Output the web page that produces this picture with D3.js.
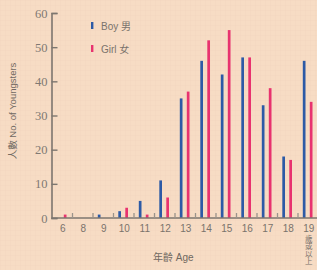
<!DOCTYPE html>
<html lang="en">
  <head>
    <meta charset="utf-8">
    <title>Youngsters by Age</title>
    <script src="https://cdnjs.cloudflare.com/ajax/libs/d3/7.8.5/d3.min.js"></script>
  </head>

  <style media="screen">
    body {
      margin: 0;
      background: #f7dcc4;
    }
  </style>

  <body>
    <script type="text/javascript">
      // Chart data.
      const ages = ["6", "8", "9", "10", "11", "12", "13", "14", "15", "16", "17", "18", "19"];
      const boys = [0, 0, 1, 2, 5, 11, 35, 46, 42, 47, 33, 18, 46];
      const girls = [1, 0, 0, 3, 1, 6, 37, 52, 55, 47, 38, 17, 34];
      const yTicks = [0, 10, 20, 30, 40, 50, 60];

      const w = 317;
      const h = 270;
      const left = 51.5;
      const bottom = 218;

      const svg = d3.select("body")
                    .append("svg")
                    .attr("width", w)
                    .attr("height", h);

      // Faint graph-paper background.
      const pattern = svg.append("defs")
                         .append("pattern")
                         .attr("id", "grid")
                         .attr("width", 5)
                         .attr("height", 5)
                         .attr("patternUnits", "userSpaceOnUse");
      pattern.append("rect")
             .attr("width", 5)
             .attr("height", 5)
             .attr("fill", "#f7dcc4");
      pattern.append("path")
             .attr("d", "M5 0 L0 0 L0 5")
             .attr("fill", "none")
             .attr("stroke", "#f2d3ba")
             .attr("stroke-width", 0.6);
      svg.append("rect")
         .attr("width", w)
         .attr("height", h)
         .attr("fill", "url(#grid)");

      const xScale = d3.scaleBand()
                       .domain(ages)
                       .range([left, 318]);

      const yScale = d3.scaleLinear()
                       .domain([0, 60])
                       .range([bottom, 13]);

      const bw = xScale.bandwidth();

      // Bars.
      svg.selectAll(".boy")
         .data(ages)
         .enter()
         .append("rect")
         .attr("class", "boy")
         .attr("x", d => xScale(d) + 5.3)
         .attr("y", (d, i) => yScale(boys[i]))
         .attr("width", 2.7)
         .attr("height", (d, i) => bottom - yScale(boys[i]))
         .attr("fill", "#2d5aa6");

      svg.selectAll(".girl")
         .data(ages)
         .enter()
         .append("rect")
         .attr("class", "girl")
         .attr("x", d => xScale(d) + 12.3)
         .attr("y", (d, i) => yScale(girls[i]))
         .attr("width", 2.7)
         .attr("height", (d, i) => bottom - yScale(girls[i]))
         .attr("fill", "#e8336f");

      // Axes.
      const yAxis = d3.axisRight(yScale)
                      .tickValues(yTicks)
                      .tickSize(6)
                      .tickFormat(d => d);
      const yg = svg.append("g")
                    .attr("transform", "translate(" + left + ",0)")
                    .call(yAxis);
      yg.select(".domain").attr("stroke", "#7d766f").attr("stroke-width", 1.6);
      yg.selectAll(".tick line").attr("stroke", "#7d766f").attr("stroke-width", 1.4);
      yg.selectAll(".tick text")
        .attr("x", -4)
        .attr("text-anchor", "end")
        .style("font-family", "'Liberation Serif', serif")
        .style("font-size", "12.5px")
        .attr("fill", "#807973");

      const xAxis = d3.axisBottom(xScale).tickSize(0).tickPadding(7);
      const xg = svg.append("g")
                    .attr("transform", "translate(0," + bottom + ")")
                    .call(xAxis);
      xg.select(".domain")
        .attr("d", "M" + left + ",0H" + w)
        .attr("stroke", "#7d766f")
        .attr("stroke-width", 1.6);
      xg.selectAll(".tick text")
        .attr("dx", 1)
        .style("font-family", "'Liberation Sans', sans-serif")
        .style("font-size", "10px")
        .attr("fill", "#7a736c");

      // Small grey marks between the age groups.
      svg.selectAll(".sep")
         .data(ages.slice(1))
         .enter()
         .append("line")
         .attr("class", "sep")
         .attr("x1", d => xScale(d) + 0.5)
         .attr("x2", d => xScale(d) + 0.5)
         .attr("y1", bottom - 5)
         .attr("y2", bottom)
         .attr("stroke", "#9a938b")
         .attr("stroke-width", 1.3);

      // "19 歲或以上": the extra words run downwards under the last label.
      svg.append("text")
         .attr("x", xScale("19") + bw / 2 + 1)
         .attr("y", 235)
         .style("writing-mode", "vertical-rl")
         .style("font-family", "'Noto Sans CJK TC', sans-serif")
         .style("font-size", "7.5px")
         .attr("fill", "#7a736c")
         .text("歲或以上");

      // Axis titles.
      svg.append("text")
         .attr("x", 153)
         .attr("y", 261)
         .style("font-family", "'Liberation Sans', 'Noto Sans CJK TC', sans-serif")
         .style("font-size", "10px")
         .attr("fill", "#6f6861")
         .text("年齡 Age");

      svg.append("text")
         .attr("transform", "translate(16,111) rotate(-90)")
         .attr("text-anchor", "middle")
         .style("font-family", "'Liberation Sans', 'Noto Sans CJK TC', sans-serif")
         .style("font-size", "9.5px")
         .attr("fill", "#6f6861")
         .text("人數 No. of Youngsters");

      // Legend.
      const legendItems = [["Boy 男", "#2d5aa6"], ["Girl 女", "#e8336f"]];
      const legend = svg.append("g");
      legend.selectAll("rect")
            .data(legendItems)
            .enter()
            .append("rect")
            .attr("x", 91)
            .attr("y", (d, i) => 22 + i * 23)
            .attr("width", 2.4)
            .attr("height", 7)
            .attr("fill", d => d[1]);
      legend.selectAll("text")
            .data(legendItems)
            .enter()
            .append("text")
            .attr("x", 101)
            .attr("y", (d, i) => 29.5 + i * 23)
            .style("font-family", "'Liberation Sans', 'Noto Sans CJK TC', sans-serif")
            .style("font-size", "10px")
            .attr("fill", "#7a736c")
            .text(d => d[0]);
    </script>
  </body>
</html>
